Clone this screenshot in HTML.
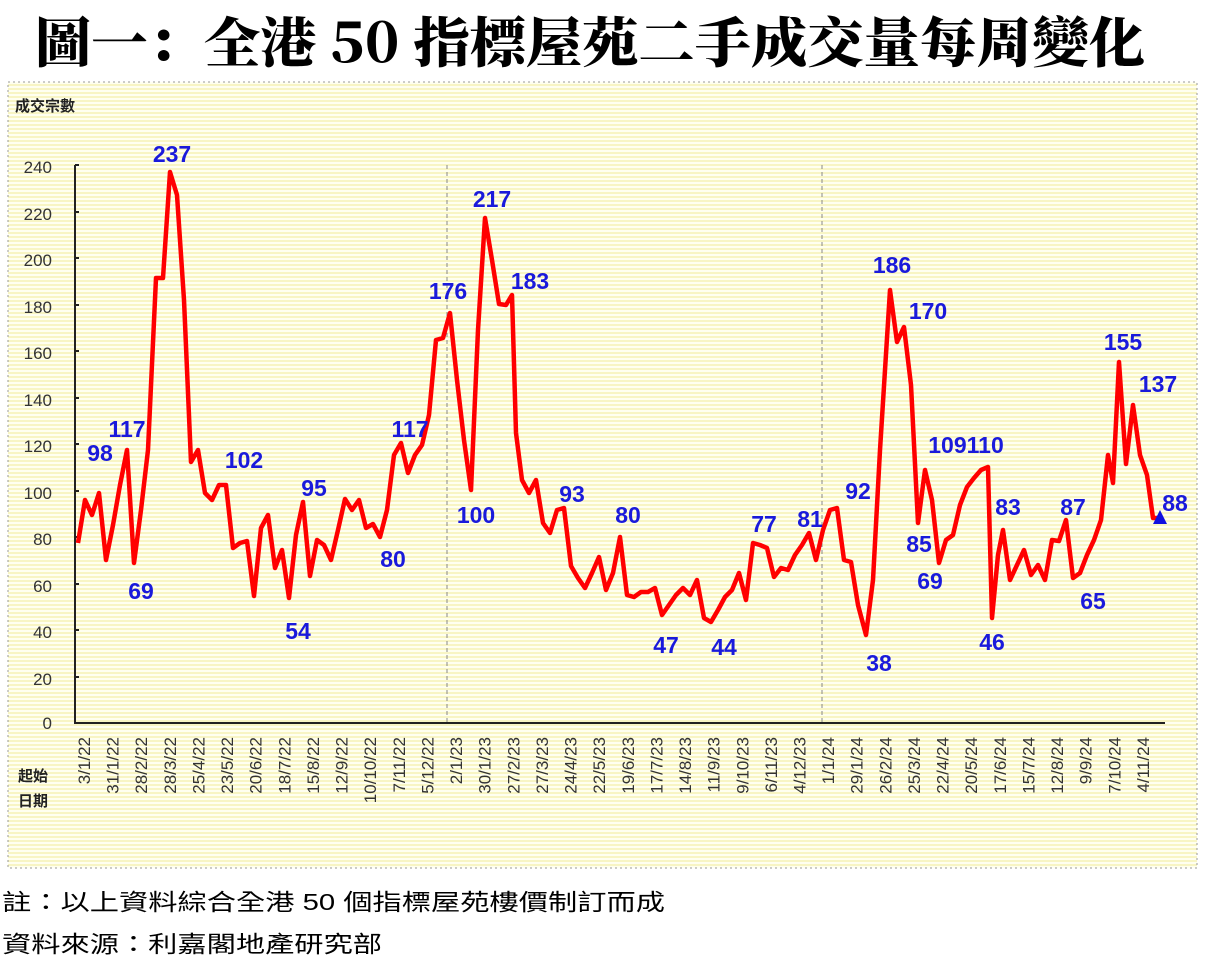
<!DOCTYPE html>
<html><head><meta charset="utf-8"><style>
body{margin:0;background:#fff;width:1213px;height:965px;overflow:hidden}
svg{display:block}
</style></head><body>
<svg width="1213" height="965" viewBox="0 0 1213 965" xmlns="http://www.w3.org/2000/svg">
<defs>
<pattern id="st" width="4" height="4" patternUnits="userSpaceOnUse">
<rect width="4" height="4" fill="#fffff0"/><rect width="4" height="2" fill="#f8f5c4"/>
</pattern>
</defs>
<text x="35" y="62" font-family="'Noto Serif CJK SC','Noto Sans CJK TC',serif" font-weight="900" font-size="54" textLength="1110" lengthAdjust="spacingAndGlyphs" fill="#000">圖一：全港 50 指標屋苑二手成交量每周變化</text>
<rect x="8" y="82" width="1189" height="786" fill="url(#st)" stroke="#999" stroke-dasharray="2,3"/>
<text x="15" y="111" font-family="'Liberation Sans','Noto Sans CJK TC',sans-serif" font-weight="bold" font-size="15" fill="#222">成交宗數</text>
<g font-family="'Liberation Sans',sans-serif" font-size="17" fill="#333" text-anchor="end">
<text x="52" y="729">0</text><text x="52" y="685">20</text><text x="52" y="638">40</text><text x="52" y="592">60</text><text x="52" y="545">80</text><text x="52" y="499">100</text><text x="52" y="452">120</text><text x="52" y="406">140</text><text x="52" y="359">160</text><text x="52" y="313">180</text><text x="52" y="266">200</text><text x="52" y="220">220</text><text x="52" y="173">240</text>
</g>
<g stroke="#222" stroke-width="2" fill="none">
<path d="M75,165V723H1165"/>
<path d="M75,165h4M75,212h4M75,258h4M75,305h4M75,351h4M75,398h4M75,444h4M75,491h4M75,537h4M75,584h4M75,630h4M75,677h4"/>
</g>
<g stroke="#888" stroke-width="1" stroke-dasharray="4,3"><path d="M447,165V723M822,165V723"/></g>
<g font-family="'Liberation Sans','Noto Sans CJK TC',sans-serif" font-weight="bold" font-size="15" fill="#222">
<text x="18" y="781">起始</text><text x="18" y="806">日期</text></g>
<g font-family="'Liberation Sans',sans-serif" font-size="17" fill="#333" text-anchor="end">
<text transform="translate(90,737) rotate(-90)">3/1/22</text>
<text transform="translate(118.6,737) rotate(-90)">31/1/22</text>
<text transform="translate(147.2,737) rotate(-90)">28/2/22</text>
<text transform="translate(175.9,737) rotate(-90)">28/3/22</text>
<text transform="translate(204.5,737) rotate(-90)">25/4/22</text>
<text transform="translate(233.1,737) rotate(-90)">23/5/22</text>
<text transform="translate(261.7,737) rotate(-90)">20/6/22</text>
<text transform="translate(290.3,737) rotate(-90)">18/7/22</text>
<text transform="translate(319,737) rotate(-90)">15/8/22</text>
<text transform="translate(347.6,737) rotate(-90)">12/9/22</text>
<text transform="translate(376.2,737) rotate(-90)">10/10/22</text>
<text transform="translate(404.8,737) rotate(-90)">7/11/22</text>
<text transform="translate(433.4,737) rotate(-90)">5/12/22</text>
<text transform="translate(462.1,737) rotate(-90)">2/1/23</text>
<text transform="translate(490.7,737) rotate(-90)">30/1/23</text>
<text transform="translate(519.3,737) rotate(-90)">27/2/23</text>
<text transform="translate(547.9,737) rotate(-90)">27/3/23</text>
<text transform="translate(576.5,737) rotate(-90)">24/4/23</text>
<text transform="translate(605.2,737) rotate(-90)">22/5/23</text>
<text transform="translate(633.8,737) rotate(-90)">19/6/23</text>
<text transform="translate(662.4,737) rotate(-90)">17/7/23</text>
<text transform="translate(691,737) rotate(-90)">14/8/23</text>
<text transform="translate(719.6,737) rotate(-90)">11/9/23</text>
<text transform="translate(748.3,737) rotate(-90)">9/10/23</text>
<text transform="translate(776.9,737) rotate(-90)">6/11/23</text>
<text transform="translate(805.5,737) rotate(-90)">4/12/23</text>
<text transform="translate(834.1,737) rotate(-90)">1/1/24</text>
<text transform="translate(862.7,737) rotate(-90)">29/1/24</text>
<text transform="translate(891.4,737) rotate(-90)">26/2/24</text>
<text transform="translate(920,737) rotate(-90)">25/3/24</text>
<text transform="translate(948.6,737) rotate(-90)">22/4/24</text>
<text transform="translate(977.2,737) rotate(-90)">20/5/24</text>
<text transform="translate(1005.8,737) rotate(-90)">17/6/24</text>
<text transform="translate(1034.5,737) rotate(-90)">15/7/24</text>
<text transform="translate(1063.1,737) rotate(-90)">12/8/24</text>
<text transform="translate(1091.7,737) rotate(-90)">9/9/24</text>
<text transform="translate(1120.3,737) rotate(-90)">7/10/24</text>
<text transform="translate(1148.9,737) rotate(-90)">4/11/24</text>
</g>
<polyline fill="none" stroke="#f00" stroke-width="4.5" stroke-linejoin="round" points="78,543 85,500 92,515 99,493 106,560 113,525 120,485 127,450 134,563 141,510 148,450 156,278 163,278 170,172 177,195 184,300 191,462 198,450 205,493 212,500 219,485 226,485 233,548 240,543 247,541 254,596 261,528 268,515 275,568 282,550 289,598 296,535 303,502 310,576 317,540 324,545 331,560 338,530 345,499 352,510 359,500 366,528 373,524 380,537 387,510 394,455 401,443 408,473 415,455 422,445 429,415 436,340 443,338 450,313 457,380 464,440 471,490 478,330 485,218 492,260 499,304 506,305 512,295 516,433 522,480 529,493 536,480 543,523 550,533 557,510 564,508 571,566 578,578 585,588 592,573 599,557 606,590 613,573 620,537 627,595 634,597 641,592 648,592 655,588 662,615 669,605 676,595 683,588 690,595 697,580 704,618 711,622 718,610 725,597 732,590 739,573 746,600 753,543 760,545 767,548 774,577 781,568 788,570 795,555 802,545 809,533 816,560 823,530 830,510 837,508 844,560 851,562 858,605 866,635 873,580 880,450 885,370 890,290 897,342 904,327 911,385 918,523 925,470 932,500 939,563 946,540 953,535 960,505 967,487 974,478 981,470 988,467 992,618 998,555 1003,530 1010,580 1017,565 1024,550 1031,575 1038,565 1045,580 1052,540 1059,541 1066,520 1073,578 1080,573 1087,555 1094,540 1101,520 1108,455 1113,483 1119,362 1126,464 1133,405 1140,455 1147,475 1153,518 1160,518"/>
<polygon points="1160,510 1153,524 1167,524" fill="#1010e0"/>
<g font-family="'Liberation Sans',sans-serif" font-size="23" font-weight="bold" fill="#1a1adb" text-anchor="middle">
<text x="172" y="162">237</text><text x="100" y="461">98</text><text x="127" y="437">117</text><text x="141" y="599">69</text><text x="244" y="468">102</text><text x="298" y="639">54</text><text x="314" y="496">95</text><text x="393" y="567">80</text><text x="410" y="437">117</text><text x="448" y="299">176</text><text x="476" y="523">100</text><text x="492" y="207">217</text><text x="530" y="289">183</text><text x="572" y="502">93</text><text x="628" y="523">80</text><text x="666" y="653">47</text><text x="724" y="655">44</text><text x="764" y="532">77</text><text x="810" y="527">81</text><text x="858" y="499">92</text><text x="879" y="671">38</text><text x="892" y="273">186</text><text x="928" y="319">170</text><text x="966" y="453">109110</text><text x="919" y="552">85</text><text x="930" y="589">69</text><text x="992" y="650">46</text><text x="1008" y="515">83</text><text x="1073" y="515">87</text><text x="1093" y="609">65</text><text x="1123" y="350">155</text><text x="1158" y="392">137</text><text x="1175" y="511">88</text>
</g>
<g font-family="'Liberation Sans','Noto Sans CJK TC',sans-serif" font-size="23" fill="#000">
<text x="2" y="910" textLength="663" lengthAdjust="spacingAndGlyphs">註：以上資料綜合全港 50 個指標屋苑樓價制訂而成</text>
<text x="2" y="952" textLength="380" lengthAdjust="spacingAndGlyphs">資料來源：利嘉閣地產研究部</text>
</g>
</svg>
</body></html>
